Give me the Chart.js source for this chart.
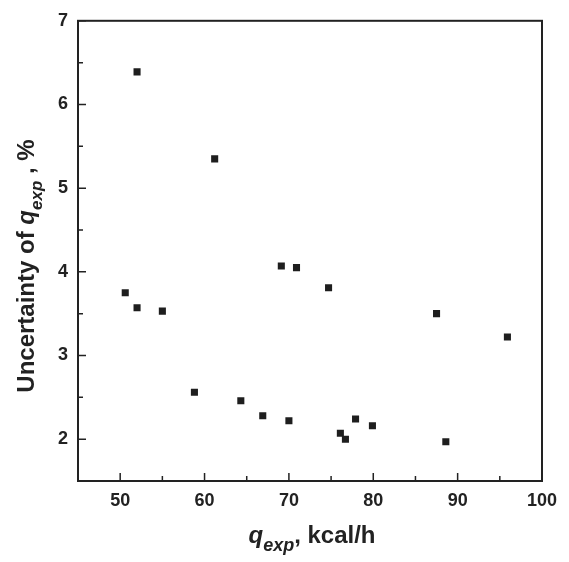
<!DOCTYPE html>
<html>
<head>
<meta charset="utf-8">
<script src="https://cdn.jsdelivr.net/npm/chart.js@4/dist/chart.umd.min.js"></script>
<style>
  html, body { margin: 0; padding: 0; background: #fff; }
  #wrap { position: relative; width: 569px; height: 562px; }
</style>
</head>
<body>
<div id="wrap"><canvas id="chart"></canvas></div>
<script>
// data
const qExp = [52.0, 61.2, 69.1, 70.9, 50.6, 52.0, 55.0, 58.8, 64.3, 66.9, 70.0,
              74.7, 87.5, 95.9, 77.9, 79.9, 76.1, 76.7, 88.6];
const uncertainty = [6.39, 5.35, 4.07, 4.05, 3.75, 3.57, 3.53, 2.56, 2.46, 2.28, 2.22,
                     3.81, 3.50, 3.22, 2.24, 2.16, 2.07, 2.00, 1.97];

const xTicks = [50, 60, 70, 80, 90, 100];
const xMinor = [55, 65, 75, 85, 95];
const yTicks = [2, 3, 4, 5, 6, 7];
const yMinor = [2.5, 3.5, 4.5, 5.5, 6.5];

const ink = '#222';
const fontFamily = '"Liberation Sans", Arial, sans-serif';

function richWidth(ctx, parts) {
  let w = 0;
  parts.forEach(p => { ctx.font = p.font; w += ctx.measureText(p.text).width; });
  return w;
}
function drawRich(ctx, parts, cx, cy) {
  let x = cx - richWidth(ctx, parts) / 2;
  parts.forEach(p => {
    ctx.font = p.font;
    ctx.fillText(p.text, x, cy + (p.dy || 0));
    x += ctx.measureText(p.text).width;
  });
}

const framePlugin = {
  id: 'framePlugin',
  afterDraw(chart) {
    const { ctx, chartArea: a, scales: { x, y } } = chart;
    ctx.save();
    ctx.strokeStyle = ink;
    ctx.lineWidth = 2;
    ctx.strokeRect(a.left, a.top, a.right - a.left, a.bottom - a.top);

    // inward tick marks on bottom and left
    ctx.lineWidth = 1.5;
    ctx.beginPath();
    xTicks.forEach(v => { const p = x.getPixelForValue(v); ctx.moveTo(p, a.bottom); ctx.lineTo(p, a.bottom - 8); });
    xMinor.forEach(v => { const p = x.getPixelForValue(v); ctx.moveTo(p, a.bottom); ctx.lineTo(p, a.bottom - 5); });
    yTicks.forEach(v => { const p = y.getPixelForValue(v); ctx.moveTo(a.left, p); ctx.lineTo(a.left + 8, p); });
    yMinor.forEach(v => { const p = y.getPixelForValue(v); ctx.moveTo(a.left, p); ctx.lineTo(a.left + 5, p); });
    ctx.stroke();

    // axis titles with subscripts
    ctx.fillStyle = ink;
    ctx.textBaseline = 'alphabetic';
    const big = 'bold 24px ' + fontFamily;
    const bigI = 'italic bold 24px ' + fontFamily;
    const sub = 'italic bold 18px ' + fontFamily;
    drawRich(ctx, [
      { text: 'q', font: bigI },
      { text: 'exp', font: sub, dy: 8 },
      { text: ', kcal/h', font: big }
    ], (a.left + a.right) / 2 + 2, 543);

    const bigY = 'bold 24px ' + fontFamily;
    const bigYI = 'italic bold 24px ' + fontFamily;
    const subY = 'italic bold 17px ' + fontFamily;
    ctx.translate(34, 266);
    ctx.rotate(-Math.PI / 2);
    drawRich(ctx, [
      { text: 'Uncertainty of ', font: bigY },
      { text: 'q', font: bigYI },
      { text: 'exp', font: subY, dy: 8 },
      { text: ' , %', font: bigY }
    ], 0, 0);
    ctx.restore();
  }
};

new Chart(document.getElementById('chart'), {
  type: 'scatter',
  data: {
    datasets: [{
      data: qExp.map((v, i) => ({ x: v, y: uncertainty[i] })),
      pointStyle: 'rect',
      pointRadius: 5,
      pointHoverRadius: 5,
      backgroundColor: '#1e1e1e',
      borderColor: '#1e1e1e',
      borderWidth: 0
    }]
  },
  options: {
    responsive: true,
    maintainAspectRatio: false,
    animation: false,
    layout: { padding: { top: 17, right: 27, left: 0, bottom: 0 } },
    plugins: { legend: { display: false }, tooltip: { enabled: false } },
    scales: {
      x: {
        type: 'linear',
        min: 45,
        max: 100,
        afterBuildTicks: s => { s.ticks = xTicks.map(v => ({ value: v })); },
        afterFit: s => { s.height = 81; },
        grid: { display: false, drawTicks: false },
        border: { display: false },
        ticks: { color: ink, padding: 9, font: { family: fontFamily, size: 18, weight: 'bold' } }
      },
      y: {
        type: 'linear',
        min: 1.5,
        max: 7,
        afterBuildTicks: s => { s.ticks = yTicks.map(v => ({ value: v })); },
        afterFit: s => { s.width = 78; },
        grid: { display: false, drawTicks: false },
        border: { display: false },
        ticks: { color: ink, padding: 10, font: { family: fontFamily, size: 18, weight: 'bold' } }
      }
    }
  },
  plugins: [framePlugin]
});
</script>
</body>
</html>
